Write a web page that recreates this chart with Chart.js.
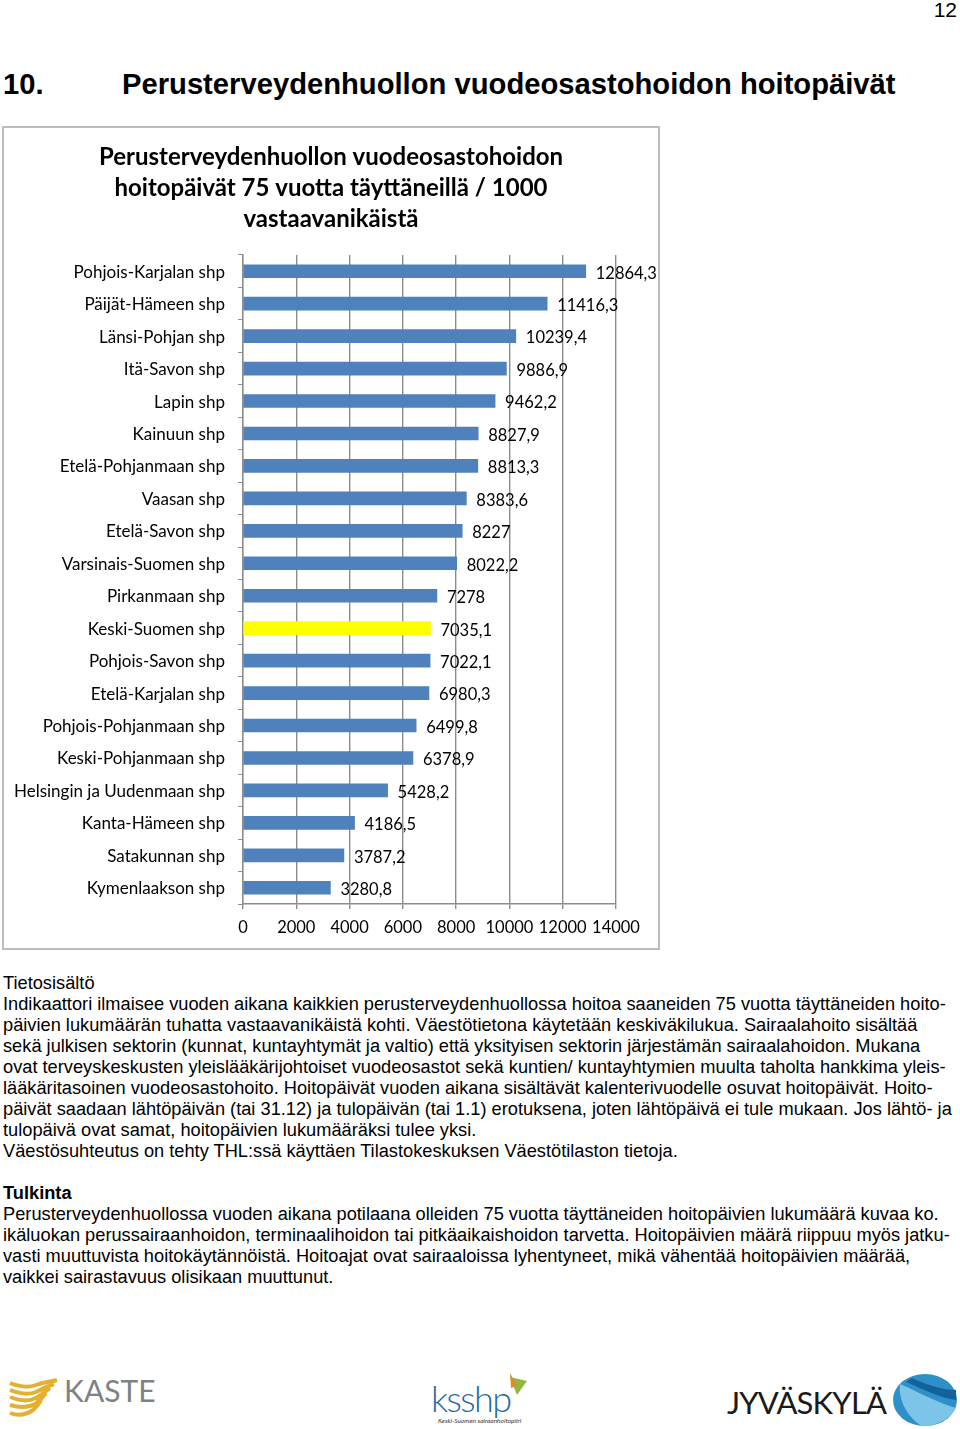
<!DOCTYPE html>
<html lang="fi">
<head>
<meta charset="utf-8">
<script src="https://cdn.jsdelivr.net/npm/chart.js@4"></script>
<style>
  html, body { margin: 0; padding: 0; background: #fff; }
  body { position: relative; width: 960px; height: 1429px; overflow: hidden; font-family: "Liberation Sans", sans-serif; color: #000; }
  .abs { position: absolute; white-space: nowrap; }
  #pageNo { right: 3px; top: -2px; font-size: 21px; line-height: 24px; }
  .heading { top: 66px; font-size: 29.2px; line-height: 36px; font-weight: bold; }
  #chartBox { position: absolute; left: 2px; top: 126px; width: 654px; height: 820px; border: 2px solid #bdbdbd; }
  #chartBox canvas { display: block; }
  .line { position: absolute; left: 3px; white-space: nowrap; font-size: 18.24px; line-height: 21px; }
  #logos { position: absolute; left: 0; top: 1340px; }
</style>
</head>
<body>
<div class="abs" id="pageNo">12</div>
<div class="abs heading" style="left:3px">10.</div>
<div class="abs heading" style="left:122px">Perusterveydenhuollon vuodeosastohoidon hoitopäivät</div>

<div id="chartBox"><canvas id="hoitopaivat" width="654" height="820"></canvas></div>

<div id="text"></div>

<svg id="logos" width="960" height="89" viewBox="0 0 960 89">
  <g fill="none" stroke="#e3b02f" stroke-width="4">
    <path d="M10 43 C20 47 28 48 36 45 C44 42 50 42 57 40"/>
    <path d="M10 50 C20 54 28 55 36 52 C42 49 48 46 54 44"/>
    <path d="M10 57 C20 61 28 62 36 58 C41 55 46 51 50 48"/>
    <path d="M10 65 C20 68 28 68 35 64 C39 61 43 57 46 53"/>
    <path d="M10 73 C18 76 26 75 33 70 C36 67 39 64 41 60"/>
  </g>
  <text x="64" y="62" font-family="Lato" font-size="30" fill="#7f8285">KASTE</text>
  <text x="431" y="72" font-family="Lato" font-weight="300" font-size="36" textLength="81" fill="#1f6aa5">ksshp</text>
  <path d="M510 37 L527 41 L517 55 Z" fill="#8fb83c"/>
  <path d="M510 33 L517 46 L511 48 Z" fill="#e08a2c"/>
  <text x="438" y="83" font-family="Lato" font-style="italic" font-size="6.5" fill="#333">Keski-Suomen sairaanhoitopiiri</text>
  <text x="727" y="74" font-family="Lato" font-size="31" textLength="160" fill="#1a1a1a">JYVÄSKYLÄ</text>
  <ellipse cx="925" cy="60" rx="32" ry="26" fill="#2f8fc7"/>
  <path d="M900 44 C915 50 935 62 956 68 C950 80 935 86 922 86 C908 78 898 60 900 44 Z" fill="#7cc4e8"/>
  <path d="M912 38 C925 44 942 50 956 50 L956 60 C940 58 925 50 906 42 Z" fill="#12639c"/>
</svg>

<script>
const regions = [
  'Pohjois-Karjalan shp', 'Päijät-Hämeen shp', 'Länsi-Pohjan shp', 'Itä-Savon shp',
  'Lapin shp', 'Kainuun shp', 'Etelä-Pohjanmaan shp', 'Vaasan shp', 'Etelä-Savon shp',
  'Varsinais-Suomen shp', 'Pirkanmaan shp', 'Keski-Suomen shp', 'Pohjois-Savon shp',
  'Etelä-Karjalan shp', 'Pohjois-Pohjanmaan shp', 'Keski-Pohjanmaan shp',
  'Helsingin ja Uudenmaan shp', 'Kanta-Hämeen shp', 'Satakunnan shp', 'Kymenlaakson shp'
];
const hoitopaivat = [
  12864.3, 11416.3, 10239.4, 9886.9, 9462.2, 8827.9, 8813.3, 8383.6, 8227, 8022.2,
  7278, 7035.1, 7022.1, 6980.3, 6499.8, 6378.9, 5428.2, 4186.5, 3787.2, 3280.8
];
const titleLines = [
  'Perusterveydenhuollon vuodeosastohoidon',
  'hoitopäivät 75 vuotta täyttäneillä / 1000',
  'vastaavanikäistä'
];
const highlighted = 'Keski-Suomen shp';

// leipateksti rivi kerrallaan, rivinvaihdot kuten alkuperaisessa
const bodyLines = [
  [983, 'Tietosisältö'],
  [1004, 'Indikaattori ilmaisee vuoden aikana kaikkien perusterveydenhuollossa hoitoa saaneiden 75 vuotta täyttäneiden hoito-'],
  [1025, 'päivien lukumäärän tuhatta vastaavanikäistä kohti. Väestötietona käytetään keskiväkilukua. Sairaalahoito sisältää'],
  [1046, 'sekä julkisen sektorin (kunnat, kuntayhtymät ja valtio) että yksityisen sektorin järjestämän sairaalahoidon. Mukana'],
  [1067, 'ovat terveyskeskusten yleislääkärijohtoiset vuodeosastot sekä kuntien/ kuntayhtymien muulta taholta hankkima yleis-'],
  [1088, 'lääkäritasoinen vuodeosastohoito. Hoitopäivät vuoden aikana sisältävät kalenterivuodelle osuvat hoitopäivät. Hoito-'],
  [1109, 'päivät saadaan lähtöpäivän (tai 31.12) ja tulopäivän (tai 1.1) erotuksena, joten lähtöpäivä ei tule mukaan. Jos lähtö- ja'],
  [1130, 'tulopäivä ovat samat, hoitopäivien lukumääräksi tulee yksi.'],
  [1151, 'Väestösuhteutus on tehty THL:ssä käyttäen Tilastokeskuksen Väestötilaston tietoja.'],
  [1193, '<b>Tulkinta</b>'],
  [1214, 'Perusterveydenhuollossa vuoden aikana potilaana olleiden 75 vuotta täyttäneiden hoitopäivien lukumäärä kuvaa ko.'],
  [1235, 'ikäluokan perussairaanhoidon, terminaalihoidon tai pitkäaikaishoidon tarvetta. Hoitopäivien määrä riippuu myös jatku-'],
  [1256, 'vasti muuttuvista hoitokäytännöistä. Hoitoajat ovat sairaaloissa lyhentyneet, mikä vähentää hoitopäivien määrää,'],
  [1277, 'vaikkei sairastavuus olisikaan muuttunut.']
];
document.getElementById('text').innerHTML = bodyLines
  .map(l => '<div class="line" style="top:' + (l[0] - 11) + 'px">' + l[1] + '</div>')
  .join('');

const valueLabels = {
  id: 'valueLabels',
  afterDatasetsDraw(chart) {
    const ctx = chart.ctx;
    const bars = chart.getDatasetMeta(0).data;
    ctx.save();
    ctx.font = '16.5px Lato';
    ctx.fillStyle = '#000';
    ctx.textBaseline = 'middle';
    bars.forEach((bar, i) => {
      ctx.fillText(String(hoitopaivat[i]).replace('.', ','), bar.x + 10, bar.y + 2);
    });
    ctx.restore();
  }
};

new Chart('hoitopaivat', {
  type: 'bar',
  plugins: [valueLabels],
  data: {
    labels: regions,
    datasets: [{
      data: hoitopaivat,
      backgroundColor: regions.map(r => r === highlighted ? '#ffff00' : '#4f81bd'),
      barThickness: 13
    }]
  },
  options: {
    indexAxis: 'y',
    responsive: false,
    animation: false,
    plugins: {
      legend: { display: false },
      tooltip: { enabled: false },
      title: {
        display: true,
        text: titleLines,
        color: '#000',
        font: { family: 'Lato', size: 24, weight: 'bold', lineHeight: 1.3 },
        padding: { top: 13.4, bottom: 20 }
      }
    },
    scales: {
      x: {
        min: 0,
        max: 14000,
        ticks: {
          stepSize: 2000,
          autoSkip: false,
          color: '#000',
          padding: 9,
          maxRotation: 0,
          font: { family: 'Lato', size: 16.5 },
          callback: value => String(value)
        },
        grid: { color: '#8c8c8c', tickLength: 5, lineWidth: 1.4 },
        border: { color: '#8c8c8c', width: 1.4 },
        afterFit(scale) { scale.height = 44; }
      },
      y: {
        ticks: { autoSkip: false, color: '#000', padding: 13, labelOffset: 1, font: { family: 'Lato', size: 17 } },
        grid: { drawOnChartArea: false, offset: true, color: '#8c8c8c', tickLength: 5 },
        border: { color: '#8c8c8c', width: 1.4 },
        afterFit(scale) { scale.width = 239; }
      },
      // tyhja akseli oikealla, jotta otsikko keskittyy koko kaavioalueelle
      tyhja: {
        type: 'category',
        position: 'right',
        ticks: { display: false },
        grid: { display: false },
        border: { display: false },
        afterFit(scale) { scale.width = 42; }
      }
    }
  }
});
</script>
</body>
</html>
